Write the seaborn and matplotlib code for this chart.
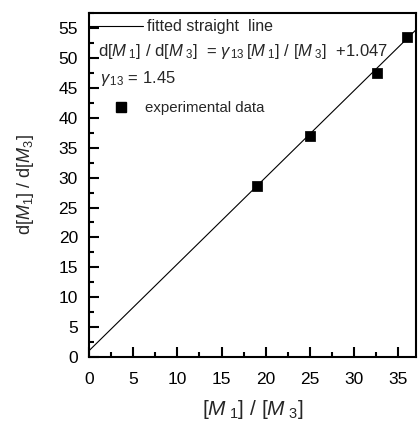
import numpy as np
import matplotlib
matplotlib.use("Agg")
import matplotlib.pyplot as plt
import seaborn as sns
from matplotlib.lines import Line2D
from matplotlib.ticker import MultipleLocator

# experimental points
ratio_feed = [19.0, 25.0, 32.6, 36.0]
ratio_copoly = [28.6, 37.0, 47.5, 53.5]

# fitted straight line
gamma13 = 1.45
intercept = 1.047
fit_x = np.array([0.0, 37.0])
fit_y = gamma13 * fit_x + intercept

sns.set_style("ticks")
plt.rcParams['font.family'] = ['Liberation Sans', 'DejaVu Sans']
plt.rcParams['mathtext.fontset'] = 'custom'
plt.rcParams['mathtext.rm'] = 'Liberation Sans'
plt.rcParams['mathtext.it'] = 'Liberation Sans:italic'

fig = plt.figure(figsize=(4.18, 4.25), dpi=100)
ax = fig.add_axes([0.2129, 0.16, 0.782, 0.809])

sns.lineplot(x=fit_x, y=fit_y, ax=ax, color='black', lw=0.8)
sns.scatterplot(x=ratio_feed, y=ratio_copoly, ax=ax, marker='s', color='black',
                s=45, edgecolor='black', zorder=3)

ax.set_xlim(0, 37)
ax.set_ylim(0, 57.5)
ax.xaxis.set_major_locator(MultipleLocator(5))
ax.xaxis.set_minor_locator(MultipleLocator(2.5))
ax.yaxis.set_major_locator(MultipleLocator(5))
ax.yaxis.set_minor_locator(MultipleLocator(2.5))
ax.tick_params(which='both', direction='in', top=False, right=False,
               width=1.5, colors='black', labelsize=12.5)
ax.tick_params(which='major', length=7)
ax.tick_params(which='minor', length=3.5)
ax.tick_params(axis='x', pad=10.5)
ax.tick_params(axis='y', pad=8)
for sp in ax.spines.values():
    sp.set_visible(True)
    sp.set_linewidth(1.5)
    sp.set_color('black')

ax.set_xlabel(r'$[M_{\ 1}]\ /\ [M_{\ 3}]$', fontsize=15, labelpad=8)
ax.set_ylabel(r'$\mathrm{d}[M_1]\ /\ \mathrm{d}[M_3]$', fontsize=13, labelpad=16)

leg1 = ax.legend([Line2D([], [], color='black', lw=0.8)], ['fitted straight  line'],
                 loc='center left', bbox_to_anchor=(0.0, 0.96), frameon=False,
                 fontsize=11.5, handlelength=3.4, handletextpad=0.25,
                 borderpad=0, borderaxespad=0)
ax.add_artist(leg1)
ax.legend([Line2D([], [], color='black', marker='s', ls='none', markersize=7.5)],
          ['experimental data'],
          loc='center left', bbox_to_anchor=(0.049, 0.724), frameon=False,
          fontsize=10.8, handlelength=2.15, handletextpad=0.5,
          borderpad=0, borderaxespad=0)

ax.text(0.028, 0.888,
        r'd$[M_{\ 1}]$ / d$[M_{\ 3}]$  = $\gamma_{\,13}\,[M_{\ 1}]$ / $[M_{\ 3}]$  +1.047',
        transform=ax.transAxes, fontsize=12, va='center', ha='left')
ax.text(0.034, 0.811, r'$\gamma_{\,13}$ = 1.45', transform=ax.transAxes,
        fontsize=12, va='center', ha='left')

fig.savefig('out.png', dpi=100)
